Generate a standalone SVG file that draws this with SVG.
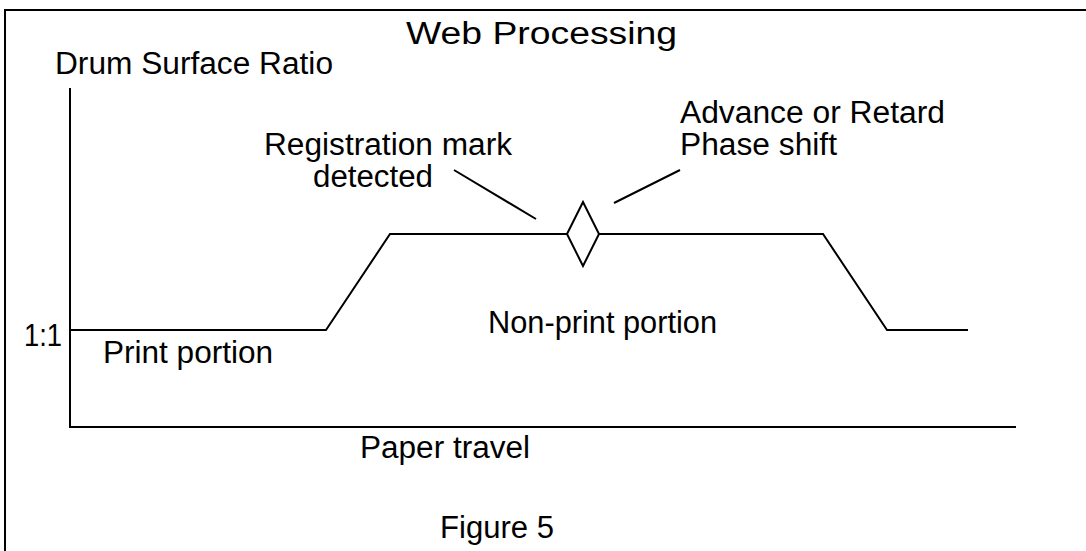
<svg xmlns="http://www.w3.org/2000/svg" width="1086" height="551" viewBox="0 0 1086 551">
<style>
text{font-family:"Liberation Sans",Arial,sans-serif;font-size:31px;fill:#000}
.ln{fill:none;stroke:#000;stroke-width:2;stroke-linejoin:miter}
</style>
<rect width="1086" height="551" fill="#fff"/>
<g id="frame"><path class="ln" d="M5,560 V10 H1100"/></g>
<g id="title"><text x="406" y="44" font-size="37" textLength="271" lengthAdjust="spacingAndGlyphs">Web Processing</text></g>
<g id="axes">
<path class="ln" d="M70,88 V427 H1016"/>
<text x="55" y="74" textLength="278" lengthAdjust="spacingAndGlyphs">Drum Surface Ratio</text>
<text x="24" y="346" textLength="38" lengthAdjust="spacingAndGlyphs">1:1</text>
<text x="360" y="458" textLength="170" lengthAdjust="spacingAndGlyphs">Paper travel</text>
</g>
<g id="curve">
<path class="ln" d="M70,330 H326 L390,234 H567 M599,234 H823 L887,330 H968"/>
</g>
<g id="diamond"><path class="ln" d="M567,234 L583,202 L599,234 L583,266 Z"/></g>
<g id="labels">
<text x="103" y="363" textLength="170" lengthAdjust="spacingAndGlyphs">Print portion</text>
<text x="488" y="333" textLength="229" lengthAdjust="spacingAndGlyphs">Non-print portion</text>
<text x="264" y="155" textLength="248" lengthAdjust="spacingAndGlyphs">Registration mark</text>
<text x="313" y="187" textLength="120" lengthAdjust="spacingAndGlyphs">detected</text>
<text x="680" y="123" textLength="265" lengthAdjust="spacingAndGlyphs">Advance or Retard</text>
<text x="680" y="155" textLength="157" lengthAdjust="spacingAndGlyphs">Phase shift</text>
<text x="440" y="538" textLength="114" lengthAdjust="spacingAndGlyphs">Figure 5</text>
</g>
<g id="connectors">
<line class="ln" x1="454" y1="170" x2="536" y2="219"/>
<line class="ln" x1="614" y1="203" x2="680" y2="170"/>
</g>
</svg>
